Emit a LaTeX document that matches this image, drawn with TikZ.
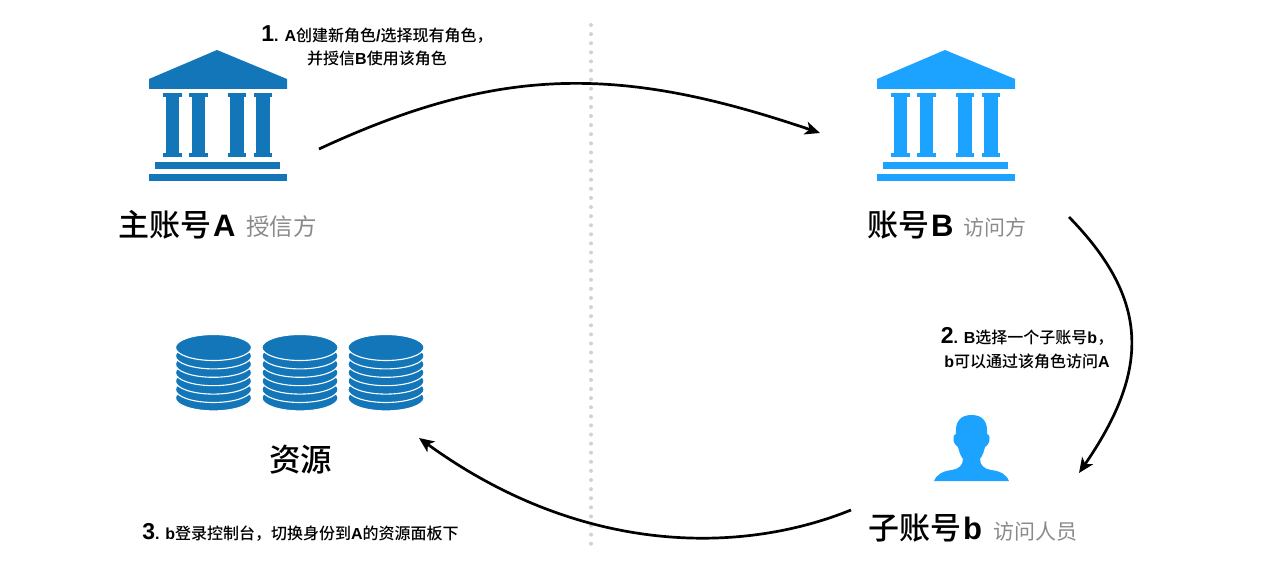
\documentclass[tikz,border=0pt]{standalone}
\usepackage{fontspec}
\setmainfont{Liberation Sans}
\newfontfamily\cjk[BoldFont={Noto Sans CJK SC Medium}]{Noto Sans CJK SC}
\usetikzlibrary{arrows.meta}
\definecolor{darkblue}{HTML}{1276B9}
\definecolor{lightblue}{HTML}{1CA2FF}
\definecolor{dotgray}{HTML}{D2D2D2}
\definecolor{labelgray}{HTML}{8A8A8A}
\newcommand{\zh}[1]{{\cjk #1}}
\newcommand{\zhcomma}{{\cjk\char"FF0C}}
\newcommand{\stepno}[1]{{\fontsize{23}{24}\selectfont #1}}
\tikzset{
  flow/.style={draw=black,line width=2.7pt,-{Stealth[length=15pt,width=13pt,inset=4pt]}},
  title/.style={inner sep=0pt,anchor=base west,font=\bfseries\fontsize{31}{34}\selectfont},
  role/.style={inner sep=0pt,anchor=base west,text=labelgray,font=\fontsize{22}{26}\selectfont},
  caption/.style={inner sep=0pt,align=center,anchor=base,font=\bfseries\fontsize{16}{24}\selectfont},
  iconbox/.style={inner sep=0pt,outer sep=0pt,anchor=north west},
  bank/.pic={
    \fill[pic actions] (68,0) -- (0,29) -- (0,39) -- (138,39) -- (138,29) -- cycle;
    \foreach \cx/\capw/\shaftw in {23.5/9.5/6.5,49.5/9.5/6.5,88/9/7,114/9/7}{
      \fill[pic actions] (\cx-\capw,43) rectangle (\cx+\capw,47);
      \fill[pic actions] (\cx-\shaftw,47) rectangle (\cx+\shaftw,103);
      \fill[pic actions] (\cx-\capw,103) rectangle (\cx+\capw,107);
    }
    \fill[pic actions] (6,112) rectangle (131,119);
    \fill[pic actions] (0,124) rectangle (138,131);
  },
  diskstack/.pic={
    \foreach \i in {6,5,...,0}{
      \filldraw[fill=darkblue,draw=white,line width=1.1pt] (0,\i*8.4) ellipse [x radius=38,y radius=13];
    }
  }
}
\begin{document}
\begin{tikzpicture}[x=1pt,y=-1pt]
  \useasboundingbox (0,0) rectangle (1264,586);
  % divider
  \coordinate (divTop) at (591,25);
  \coordinate (divBottom) at (591,548);
  \draw[dotgray,line width=4pt,line cap=round,dash pattern=on 0pt off 9.1pt] (divTop) -- (divBottom);

  % icons
  \node[iconbox,minimum width=138pt,minimum height=131pt] (bankA) at (149,50) {};
  \node[iconbox,minimum width=138pt,minimum height=131pt] (bankB) at (877,50) {};
  \pic[fill=darkblue] at (bankA.north west) {bank};
  \pic[fill=lightblue] at (bankB.north west) {bank};
  \foreach \sx/\sname in {213.5/stackOne,300/stackTwo,386/stackThree}{
    \coordinate (\sname) at (\sx,347.5);
    \pic at (\sname) {diskstack};
  }
  \coordinate (userTop) at (971.5,415);
  \fill[lightblue] (934,481) .. controls (937,474) and (943,471) .. (952,470)
    .. controls (959,469) and (963,465) .. (963,459)
    .. controls (960,455) and (959,451) .. (958,447)
    .. controls (955,445) and (953,442) .. (953.5,437)
    .. controls (954,435) and (955,434) .. (956,434)
    .. controls (955,422) and (960,415) .. (userTop)
    .. controls (983,415) and (988,422) .. (987,434)
    .. controls (988,434) and (989,435) .. (989.5,437)
    .. controls (990,442) and (988,445) .. (985,447)
    .. controls (984,451) and (983,455) .. (980,459)
    .. controls (980,465) and (984,469) .. (991,470)
    .. controls (1000,471) and (1006,474) .. (1009,481) -- cycle;

  % labels
  \node[title] (nameA) at (118,236) {\zh{主账号}\kern2pt A};
  \node[role] (roleA) at (246,235) {\fontsize{23.5}{26}\selectfont\zh{授信方}};
  \node[title] (nameB) at (867,236) {\zh{账号}\kern2pt B};
  \node[role] (roleB) at (963,235) {\fontsize{21}{26}\selectfont\zh{访问方}};
  \node[title] (nameSub) at (868,539) {\zh{子账号}\kern2pt b};
  \node[role] (roleSub) at (993,539) {\fontsize{21}{26}\selectfont\zh{访问人员}};
  \node[title] (nameRes) at (269,471) {\fontsize{31.5}{34}\selectfont\zh{资源}};

  \node[caption] (stepOne) at (377,65) {\stepno{1}. A\zh{创建新角色}/\zh{选择现有角色}\zhcomma\\\zh{并授信}B\zh{使用该角色}};
  \node[caption] (stepTwo) at (1027,367) {\stepno{2}. B\zh{选择一个子账号}b\zhcomma\\b\zh{可以通过该角色访问}A};
  \node[caption] (stepThree) at (300.5,539) {\stepno{3}. b\zh{登录控制台}\zhcomma\zh{切换身份到}A\zh{的资源面板下}};

  % connectors
  \coordinate (oneStart) at (319,149);
  \coordinate (oneEnd) at (820,133);
  \coordinate (twoStart) at (1069,217);
  \coordinate (twoEnd) at (1079,473);
  \coordinate (threeStart) at (851,510);
  \coordinate (threeEnd) at (419,438);
  \draw[flow] (oneStart) .. controls (500,65) and (620,65) .. (oneEnd);
  \draw[flow] (twoStart) .. controls (1150,300) and (1150,370) .. (twoEnd);
  \draw[flow] (threeStart) .. controls (740,555) and (580,555) .. (threeEnd);
\end{tikzpicture}
\end{document}
